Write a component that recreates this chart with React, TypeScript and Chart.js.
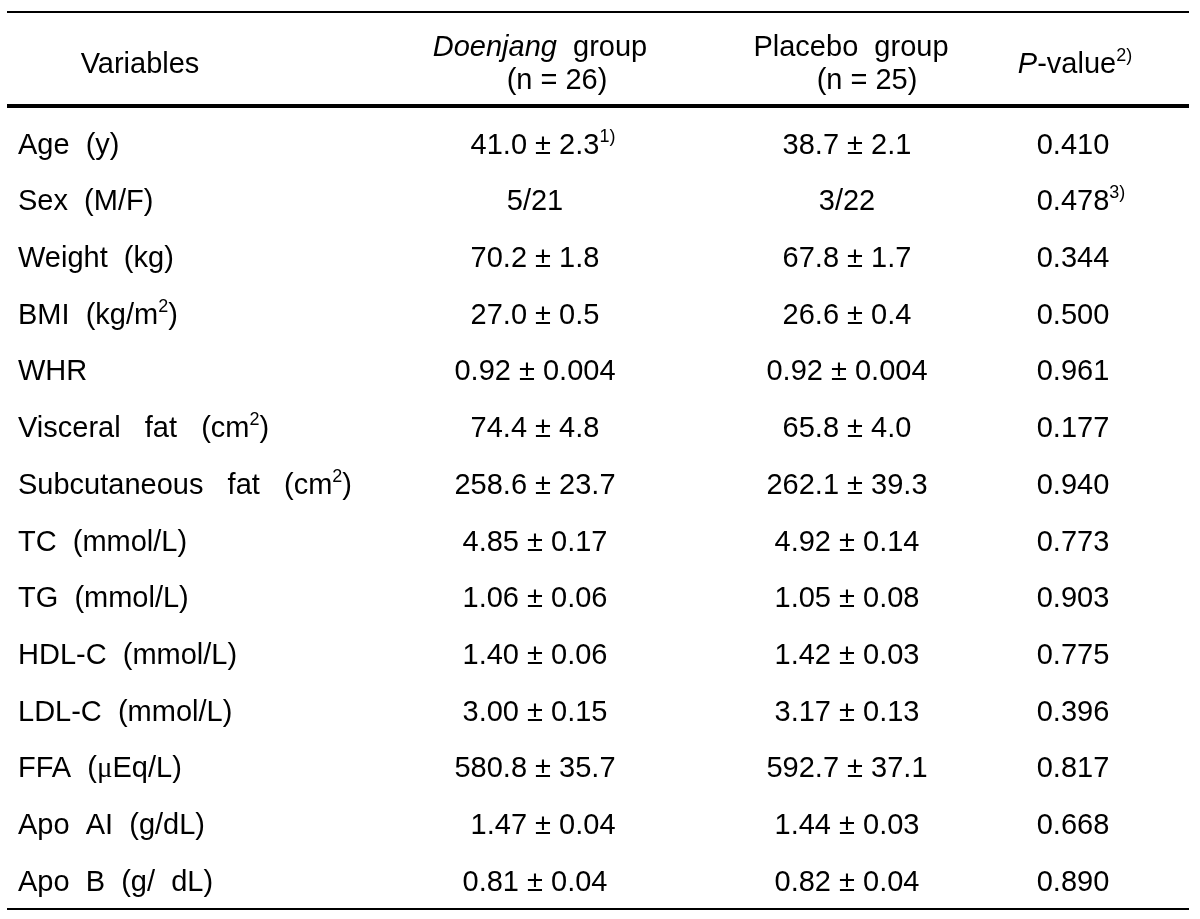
import React, { useEffect, useRef } from 'react';
import { Chart, registerables } from 'chart.js';

Chart.register(...registerables);

// ---- Data (markup: ^{..} superscript, *{..} italic, ~{..} serif glyph) ----
const variables = [
  'Age  (y)',
  'Sex  (M/F)',
  'Weight  (kg)',
  'BMI  (kg/m^{2})',
  'WHR',
  'Visceral   fat   (cm^{2})',
  'Subcutaneous   fat   (cm^{2})',
  'TC  (mmol/L)',
  'TG  (mmol/L)',
  'HDL-C  (mmol/L)',
  'LDL-C  (mmol/L)',
  'FFA  (~{μ}Eq/L)',
  'Apo  AI  (g/dL)',
  'Apo  B  (g/  dL)',
];

const doenjangGroup = [
  '41.0 ± 2.3^{1)}',
  '5/21',
  '70.2 ± 1.8',
  '27.0 ± 0.5',
  '0.92 ± 0.004',
  '74.4 ± 4.8',
  '258.6 ± 23.7',
  '4.85 ± 0.17',
  '1.06 ± 0.06',
  '1.40 ± 0.06',
  '3.00 ± 0.15',
  '580.8 ± 35.7',
  '  1.47 ± 0.04',
  '0.81 ± 0.04',
];

const placeboGroup = [
  '38.7 ± 2.1',
  '3/22',
  '67.8 ± 1.7',
  '26.6 ± 0.4',
  '0.92 ± 0.004',
  '65.8 ± 4.0',
  '262.1 ± 39.3',
  '4.92 ± 0.14',
  '1.05 ± 0.08',
  '1.42 ± 0.03',
  '3.17 ± 0.13',
  '592.7 ± 37.1',
  '1.44 ± 0.03',
  '0.82 ± 0.04',
];

const pValues = [
  '0.410',
  '0.478^{3)}',
  '0.344',
  '0.500',
  '0.961',
  '0.177',
  '0.940',
  '0.773',
  '0.903',
  '0.775',
  '0.396',
  '0.817',
  '0.668',
  '0.890',
];

const headerLine1 = ['Variables', '*{Doenjang}  group', 'Placebo  group', '*{P}-value^{2)}'];
const headerLine2 = ['', '(n = 26)', '(n = 25)', ''];

// ---- Layout / style ----
const W = 1200;
const H = 919;
const FAMILY = '"Liberation Sans", Arial, Helvetica, sans-serif';
const FONT_SIZE = 29;
const V_STRETCH = 1.03;
const ROW_STEP = 56.7; // px per row
const FIRST_ROW_PX = 143;
const Y_MIN = -FIRST_ROW_PX / ROW_STEP;
const Y_MAX = Y_MIN + H / ROW_STEP;
const COL_X = [18, 535, 847, 1073];
const COL_ALIGN: ('left' | 'center')[] = ['left', 'center', 'center', 'center'];
const HEAD1_X = [140, 540, 851, 1075];
const HEAD2_X = [140, 557, 867, 1075];
const HEAD1_Y = -1.728;
const HEAD2_Y = -1.146;
const HEAD_SINGLE_Y = -1.429;
const RULES = [
  { y: -2.31, w: 2 },
  { y: -0.653, w: 4 },
  { y: 13.51, w: 2 },
];
const RULE_X0 = 7;
const RULE_X1 = 1189;

type Seg = { t: string; kind: 'n' | 'i' | 's' | 'g' };
function parse(s: string): Seg[] {
  const out: Seg[] = [];
  const re = /([\^*~])\{([^}]*)\}/g;
  let last = 0;
  let m: RegExpExecArray | null;
  while ((m = re.exec(s))) {
    if (m.index > last) out.push({ t: s.slice(last, m.index), kind: 'n' });
    out.push({ t: m[2], kind: m[1] === '^' ? 's' : m[1] === '*' ? 'i' : 'g' });
    last = re.lastIndex;
  }
  if (last < s.length) out.push({ t: s.slice(last), kind: 'n' });
  return out;
}

function fontFor(kind: Seg['kind'], size: number) {
  if (kind === 'i') return `italic ${size}px ${FAMILY}`;
  if (kind === 's') return `${Math.round(size * 0.62)}px ${FAMILY}`;
  if (kind === 'g') return `${size}px "Liberation Serif", "DejaVu Serif", serif`;
  return `${size}px ${FAMILY}`;
}

function drawRich(
  ctx: CanvasRenderingContext2D,
  text: string,
  x: number,
  yCenter: number,
  align: 'left' | 'center',
  ignoreTrailingSup: boolean
) {
  const segs = parse(text);
  const size = FONT_SIZE;
  const widths = segs.map((s) => {
    ctx.font = fontFor(s.kind, size);
    return ctx.measureText(s.t).width;
  });
  let total = 0;
  segs.forEach((s, i) => {
    const isTrailingSup = ignoreTrailingSup && s.kind === 's' && i === segs.length - 1;
    if (!isTrailingSup) total += widths[i];
  });
  let cx = align === 'left' ? x : x - total / 2;
  const baseline = yCenter + size * 0.358 * V_STRETCH;
  ctx.save();
  ctx.translate(0, baseline);
  ctx.scale(1, V_STRETCH);
  ctx.textAlign = 'left';
  ctx.textBaseline = 'alphabetic';
  ctx.fillStyle = '#000';
  segs.forEach((s, i) => {
    ctx.font = fontFor(s.kind, size);
    const yy = s.kind === 's' ? -size * 0.4 : 0;
    ctx.fillText(s.t, cx, yy);
    cx += widths[i];
  });
  ctx.restore();
}

const tablePlugin = {
  id: 'tablePlugin',
  afterDraw(chart: any) {
    const { ctx, scales } = chart;
    const xs = scales.x;
    const ys = scales.y;
    ctx.save();
    // rules
    ctx.strokeStyle = '#000';
    RULES.forEach((r) => {
      const y = ys.getPixelForValue(r.y);
      ctx.lineWidth = r.w;
      ctx.beginPath();
      ctx.moveTo(xs.getPixelForValue(RULE_X0), y);
      ctx.lineTo(xs.getPixelForValue(RULE_X1), y);
      ctx.stroke();
    });
    // header
    headerLine1.forEach((h, c) => {
      const twoLine = headerLine2[c] !== '';
      const y1 = ys.getPixelForValue(twoLine ? HEAD1_Y : HEAD_SINGLE_Y);
      drawRich(ctx, h, xs.getPixelForValue(HEAD1_X[c]), y1, 'center', false);
      if (twoLine) {
        drawRich(ctx, headerLine2[c], xs.getPixelForValue(HEAD2_X[c]), ys.getPixelForValue(HEAD2_Y), 'center', false);
      }
    });
    // cells from dataset points
    const columns = [variables, doenjangGroup, placeboGroup, pValues];
    chart.data.datasets.forEach((_ds: any, c: number) => {
      const meta = chart.getDatasetMeta(c);
      meta.data.forEach((pt: any, i: number) => {
        drawRich(ctx, columns[c][i], pt.x, pt.y, COL_ALIGN[c], true);
      });
    });
    ctx.restore();
  },
};

export default function App() {
  const ref = useRef<HTMLCanvasElement | null>(null);
  useEffect(() => {
    if (!ref.current) return;
    const columns = [variables, doenjangGroup, placeboGroup, pValues];
    const chart = new Chart(ref.current, {
      type: 'scatter',
      data: {
        datasets: columns.map((col, c) => ({
          label: headerLine1[c],
          data: col.map((_v, i) => ({ x: COL_X[c], y: i })),
          pointRadius: 0,
          pointHoverRadius: 0,
          showLine: false,
        })),
      },
      options: {
        animation: false,
        responsive: true,
        maintainAspectRatio: false,
        layout: { padding: 0 },
        events: [],
        plugins: {
          legend: { display: false },
          tooltip: { enabled: false },
          title: { display: false },
        },
        scales: {
          x: { type: 'linear', min: 0, max: W, display: false },
          y: { type: 'linear', min: Y_MIN, max: Y_MAX, reverse: true, display: false },
        },
      },
      plugins: [tablePlugin],
    });
    return () => chart.destroy();
  }, []);
  return (
    <div style={{ position: 'absolute', left: 0, top: 0, width: W, height: H, background: '#fff' }}>
      <canvas ref={ref} />
    </div>
  );
}
